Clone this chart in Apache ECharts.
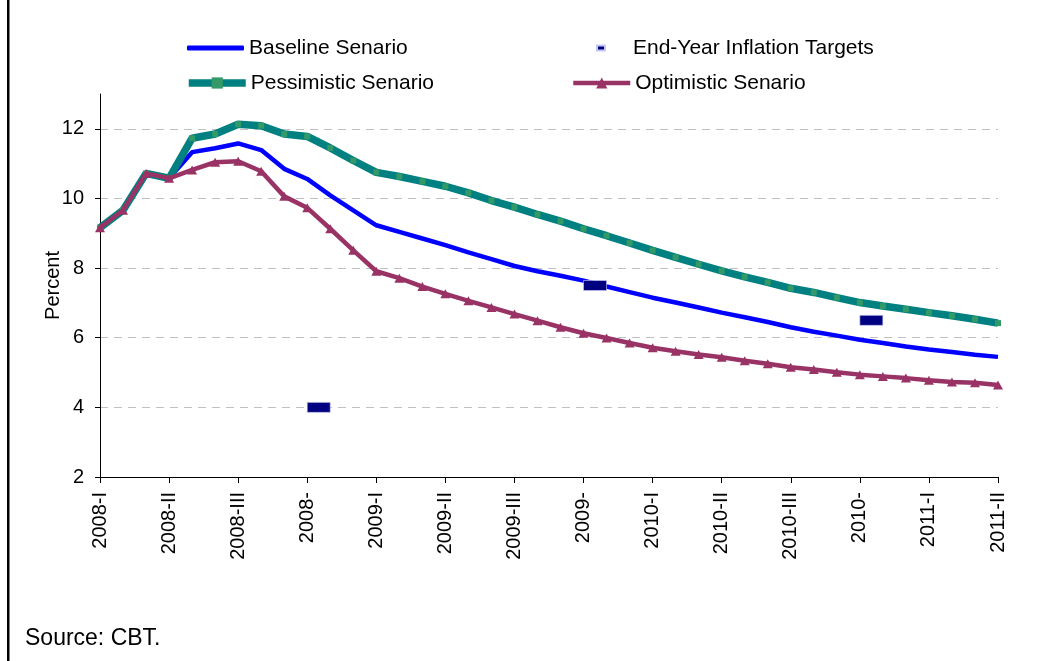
<!DOCTYPE html>
<html>
<head>
<meta charset="utf-8">
<script src="https://cdn.jsdelivr.net/npm/echarts@6/dist/echarts.min.js"></script>
<style>
html,body{margin:0;padding:0;background:#fff;}
#chart{width:1056px;height:661px;}
</style>
</head>
<body>
<div id="chart"></div>
<script>
// Tick labels shown every third month (quarters; year-end quarter label is cut in the source)
var quarterLabels = ['2008-I','2008-II','2008-III','2008-','2009-I','2009-II','2009-III','2009-','2010-I','2010-II','2010-III','2010-','2011-I','2011-II'];

var baseline = [9.16,9.66,10.72,10.58,11.33,11.44,11.58,11.39,10.85,10.56,
                10.09,9.66,9.23,9.04,8.85,8.66,8.45,8.26,8.06,7.91,
                7.78,7.64,7.47,7.31,7.15,7.01,6.87,6.72,6.59,6.45,
                6.30,6.17,6.06,5.94,5.85,5.75,5.66,5.59,5.51,5.45];
var pessimistic = [9.16,9.66,10.72,10.58,11.73,11.85,12.13,12.09,11.85,11.78,
                   11.45,11.09,10.75,10.63,10.49,10.35,10.16,9.94,9.75,9.54,
                   9.35,9.13,8.93,8.72,8.51,8.31,8.11,7.92,7.75,7.59,
                   7.42,7.30,7.15,7.01,6.91,6.82,6.72,6.63,6.53,6.42];
var optimistic = [9.16,9.66,10.72,10.58,10.82,11.04,11.07,10.78,10.06,9.73,
                  9.13,8.51,7.91,7.71,7.47,7.26,7.06,6.87,6.68,6.49,
                  6.30,6.13,5.99,5.85,5.71,5.61,5.52,5.44,5.34,5.25,
                  5.15,5.09,5.01,4.94,4.89,4.84,4.78,4.73,4.71,4.64];
// End-year inflation targets (placed at the year-end quarter categories)
var targetCats = ['2008-','2009-','2010-'];
var targetVals = [4, 7.5, 6.5];
var yTicks = [2,4,6,8,10,12];

// Build monthly categories: quarter label every third month
var categories = [];
for (var q = 0; q < quarterLabels.length; q++) {
  categories.push(quarterLabels[q]);
  if (q < quarterLabels.length - 1) {
    categories.push(quarterLabels[q] + ' m2');
    categories.push(quarterLabels[q] + ' m3');
  }
}
var targetData = categories.map(function(){ return null; });
targetCats.forEach(function(c, i){ targetData[categories.indexOf(c)] = targetVals[i]; });

var FONT = 'Liberation Sans, Arial, sans-serif';
var TXT = {fontFamily: FONT, fontSize: 21, color: '#000', lineHeight: 24};
var chart = echarts.init(document.getElementById('chart'), null, {renderer:'canvas'});

function lg(item, left, top, extra) {
  var o = {
    data: [item], left: left, top: top, padding: 0, itemGap: 0,
    itemWidth: 57, itemHeight: 14,
    textStyle: TXT
  };
  for (var k in extra) o[k] = extra[k];
  return o;
}

chart.setOption({
  animation: false,
  backgroundColor: '#fff',
  textStyle: {fontFamily: FONT},
  grid: {left: 100, right: 58, top: 94, bottom: 184, containLabel: false},
  legend: [
    lg({name: 'Baseline Senario', icon: 'roundRect'}, 187, 36, {itemHeight: 5}),
    lg({name: 'End-Year Inflation Targets', icon: 'rect'}, 596, 36, {
      itemWidth: 8, itemHeight: 5,
      textStyle: {fontFamily: FONT, fontSize: 21, color: '#000', lineHeight: 24, padding: [0,0,0,23]}
    }),
    lg({name: 'Pessimistic Senario', lineStyle: {width: 7.5}}, 185, 71),
    lg({name: 'Optimistic Senario', lineStyle: {width: 4.5}}, 571, 71)
  ],
  xAxis: {
    type: 'category',
    data: categories,
    boundaryGap: false,
    axisLine: {lineStyle: {color: '#000', width: 1}},
    axisTick: {interval: 2, length: 6, lineStyle: {color: '#000'}},
    axisLabel: {
      interval: 2, rotate: 90, margin: 15,
      fontFamily: FONT, fontSize: 20, color: '#000',
      formatter: function(v){ return quarterLabels.indexOf(v) >= 0 ? v : ''; }
    },
    splitLine: {show: false}
  },
  yAxis: {
    type: 'value',
    min: 2, max: 13, interval: 2,
    name: 'Percent',
    nameLocation: 'middle',
    nameGap: 37,
    nameMoveOverlap: false,
    nameRotate: 90,
    nameTextStyle: {fontFamily: FONT, fontSize: 20, color: '#000'},
    axisLine: {show: true, lineStyle: {color: '#000', width: 1}},
    axisTick: {show: true, length: 5, customValues: yTicks, lineStyle: {color: '#000'}},
    axisLabel: {customValues: yTicks, margin: 16, fontFamily: FONT, fontSize: 20, color: '#000'},
    splitLine: {show: true, lineStyle: {color: '#c0c0c0', type: [8, 6], width: 1}}
  },
  series: [
    {
      name: 'Baseline Senario', type: 'line', data: baseline,
      symbol: 'none', showSymbol: false,
      lineStyle: {color: '#0000ff', width: 4.5},
      itemStyle: {color: '#0000ff'},
      z: 2
    },
    {
      name: 'Pessimistic Senario', type: 'line', data: pessimistic,
      symbol: 'rect', symbolSize: 6, showSymbol: true,
      lineStyle: {color: '#008080', width: 7.5},
      itemStyle: {color: '#339966'},
      z: 3
    },
    {
      name: 'Optimistic Senario', type: 'line', data: optimistic,
      symbol: 'triangle', symbolSize: [10, 9], showSymbol: true,
      lineStyle: {color: '#993366', width: 4.5},
      itemStyle: {color: '#993366'},
      z: 4
    },
    {
      name: 'End-Year Inflation Targets', type: 'scatter', data: targetData,
      symbol: 'rect', symbolSize: [23, 10], symbolOffset: ['50%', 0],
      itemStyle: {color: '#000080', opacity: 1, borderColor: '#c8c8f0', borderWidth: 0.6},
      z: 5
    }
  ],
  graphic: [
    {type: 'rect', shape: {x: 7, y: 0, width: 2.5, height: 661}, style: {fill: '#000'}, silent: true},
    {type: 'text', left: 25, top: 627, style: {text: 'Source: CBT.', font: '23px ' + FONT, fill: '#000'}}
  ]
});
</script>
</body>
</html>
